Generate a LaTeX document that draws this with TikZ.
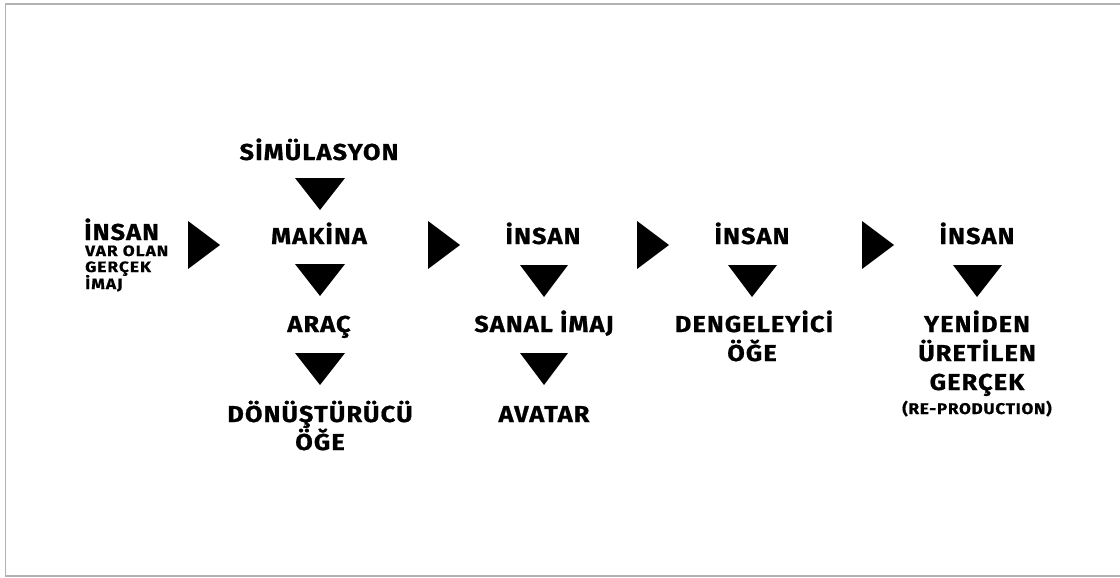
\documentclass[tikz,border=0pt]{standalone}
\usepackage{fontspec}
\setmainfont{Fira Sans}[BoldFont={Fira Sans Bold}]
\newfontfamily\dinfont{Fira Sans Bold}[FakeStretch=1.1,LetterSpace=5,FakeBold=0.8]
\newfontfamily\dinsmall{Fira Sans Bold}[FakeStretch=1.15,LetterSpace=7,FakeBold=0.6]
\begin{document}
\begin{tikzpicture}[x=1pt,y=-1pt,
  big/.style={anchor=base,inner sep=0pt,font=\dinfont\fontsize{23}{23}\selectfont},
  small/.style={anchor=base west,inner sep=0pt,font=\dinsmall\fontsize{15}{15}\selectfont},
  tiny/.style={anchor=base,inner sep=0pt,font=\dinfont\fontsize{15.5}{15.5}\selectfont},
  tri/.style={fill=black,draw=none},
  frame/.style={draw=black!30,line width=1.2pt}]
\useasboundingbox (0,0) rectangle (1120,578);
\draw[frame] (1120,4) -- (5.5,4) -- (5.5,576) -- (1120,576);
% column 1
\node[big] (sim) at (319,160) {SİMÜLASYON};
\node[big] (mak) at (319,244) {MAKİNA};
\node[big] (arac) at (319,332) {ARAÇ};
\node[big] (donus) at (320,422) {DÖNÜŞTÜRÜCÜ};
\node[big] (oge1) at (320,450) {ÖĞE};
% left block
\node[big,anchor=base west] (insan0) at (84,240) {İNSAN};
\node[small] (var) at (85,256) {VAR OLAN};
\node[small] (gercek0) at (85,272) {GERÇEK};
\node[small] (imaj0) at (85,289) {İMAJ};
% column 2
\node[big] (insan2) at (543,244) {İNSAN};
\node[big] (sanal) at (544,332) {SANAL İMAJ};
\node[big] (avatar) at (544,422) {AVATAR};
% column 3
\node[big] (insan3) at (752,244) {İNSAN};
\node[big] (denge) at (754,332) {DENGELEYİCİ};
\node[big] (oge3) at (752,361) {ÖĞE};
% column 4
\node[big] (insan4) at (977,244) {İNSAN};
\node[big] (yeni) at (977,332) {YENİDEN};
\node[big] (uret) at (977,361) {ÜRETİLEN};
\node[big] (gercek4) at (977,390) {GERÇEK};
\node[tiny] (repro) at (977,414) {(RE-PRODUCTION)};
% right-pointing triangles
\fill[tri] (188,221) -- (220,245) -- (188,269) -- cycle;
\fill[tri] (428,221) -- (460,245) -- (428,269) -- cycle;
\fill[tri] (637,221) -- (669,245) -- (637,269) -- cycle;
\fill[tri] (862,221) -- (894,245) -- (862,269) -- cycle;
% down-pointing triangles
\fill[tri] (295,178) -- (345,178) -- (320,210) -- cycle;
\fill[tri] (295,264) -- (345,264) -- (320,296) -- cycle;
\fill[tri] (295,353) -- (345,353) -- (320,385) -- cycle;
\fill[tri] (520,265) -- (568,265) -- (544,297) -- cycle;
\fill[tri] (520,353) -- (568,353) -- (544,385) -- cycle;
\fill[tri] (728,265) -- (777,265) -- (752,297) -- cycle;
\fill[tri] (953,265) -- (1002,265) -- (977,297) -- cycle;
\end{tikzpicture}
\end{document}
